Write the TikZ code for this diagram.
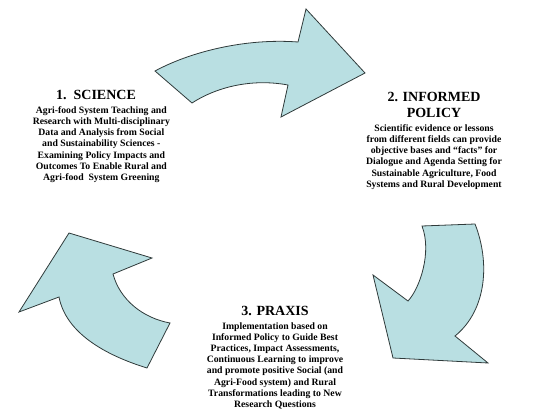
\documentclass[tikz,border=0pt]{standalone}
\usepackage{fontspec}
\setmainfont{Liberation Serif}
\usetikzlibrary{positioning}
\definecolor{cArrow}{HTML}{B9DFE2}
\definecolor{cEdge}{HTML}{2F3A3A}

\begin{document}
\begin{tikzpicture}[
  x=0.75pt, y=-0.75pt,
  title/.style={inner sep=0pt, align=center,
                font=\bfseries\fontsize{10.5}{12}\selectfont},
  body/.style={inner sep=0pt, align=center,
               font=\bfseries\fontsize{7.3}{8.3}\selectfont},
  blockarrow/.style={draw=cEdge, fill=cArrow, line width=0.6pt, line join=miter},
]
  \useasboundingbox (0,0) rectangle (534,417);

  % Arrow science -> policy
  \draw[blockarrow] (155,71) .. controls (190,52) and (245,38) .. (298,42)
    -- (306,9) -- (365,73) -- (281,117) -- (288,85)
    .. controls (250,78) and (215,88) .. (192,103) -- cycle;

  % Arrow policy -> praxis
  \draw[blockarrow] (422,226) -- (475,224)
    .. controls (490,262) and (487,310) .. (455,336)
    -- (488,363) -- (393,358) -- (373,275) -- (408,301)
    .. controls (420,288) and (432,252) .. (422,226) -- cycle;

  % Arrow praxis -> science
  \draw[blockarrow] (69,233) -- (152,258) -- (113,274)
    .. controls (120,300) and (143,318) .. (170,323)
    -- (147,368)
    .. controls (105,355) and (66,333) .. (59,297)
    -- (19,312) -- cycle;

  % 1. Science
  \node[title] (sci) at (96,95) {1.\ \ SCIENCE};
  \node[body, below=5pt of sci.south, anchor=north, xshift=4pt] (scitxt) {%
    Agri-food System Teaching and\\
    Research with Multi-disciplinary\\
    Data and Analysis from Social\\
    and Sustainability Sciences -\\
    Examining Policy Impacts and\\
    Outcomes To Enable Rural and\\
    Agri-food\ \ System Greening};

  % 2. Informed policy
  \node[title] (pol) at (434,105) {2. INFORMED\\POLICY};
  \node[body, below=5pt of pol.south, anchor=north] (poltxt) {%
    Scientific evidence or lessons\\
    from different fields can provide\\
    objective bases and ``facts'' for\\
    Dialogue and Agenda Setting for\\
    Sustainable Agriculture, Food\\
    Systems and Rural Development};

  % 3. Praxis
  \node[title] (prax) at (275,311) {3. PRAXIS};
  \node[body, below=5pt of prax.south, anchor=north] (praxtxt) {%
    Implementation based on\\
    Informed Policy to Guide Best\\
    Practices, Impact Assessments,\\
    Continuous Learning to improve\\
    and promote positive Social (and\\
    Agri-Food system) and Rural\\
    Transformations leading to New\\
    Research Questions};
\end{tikzpicture}
\end{document}
